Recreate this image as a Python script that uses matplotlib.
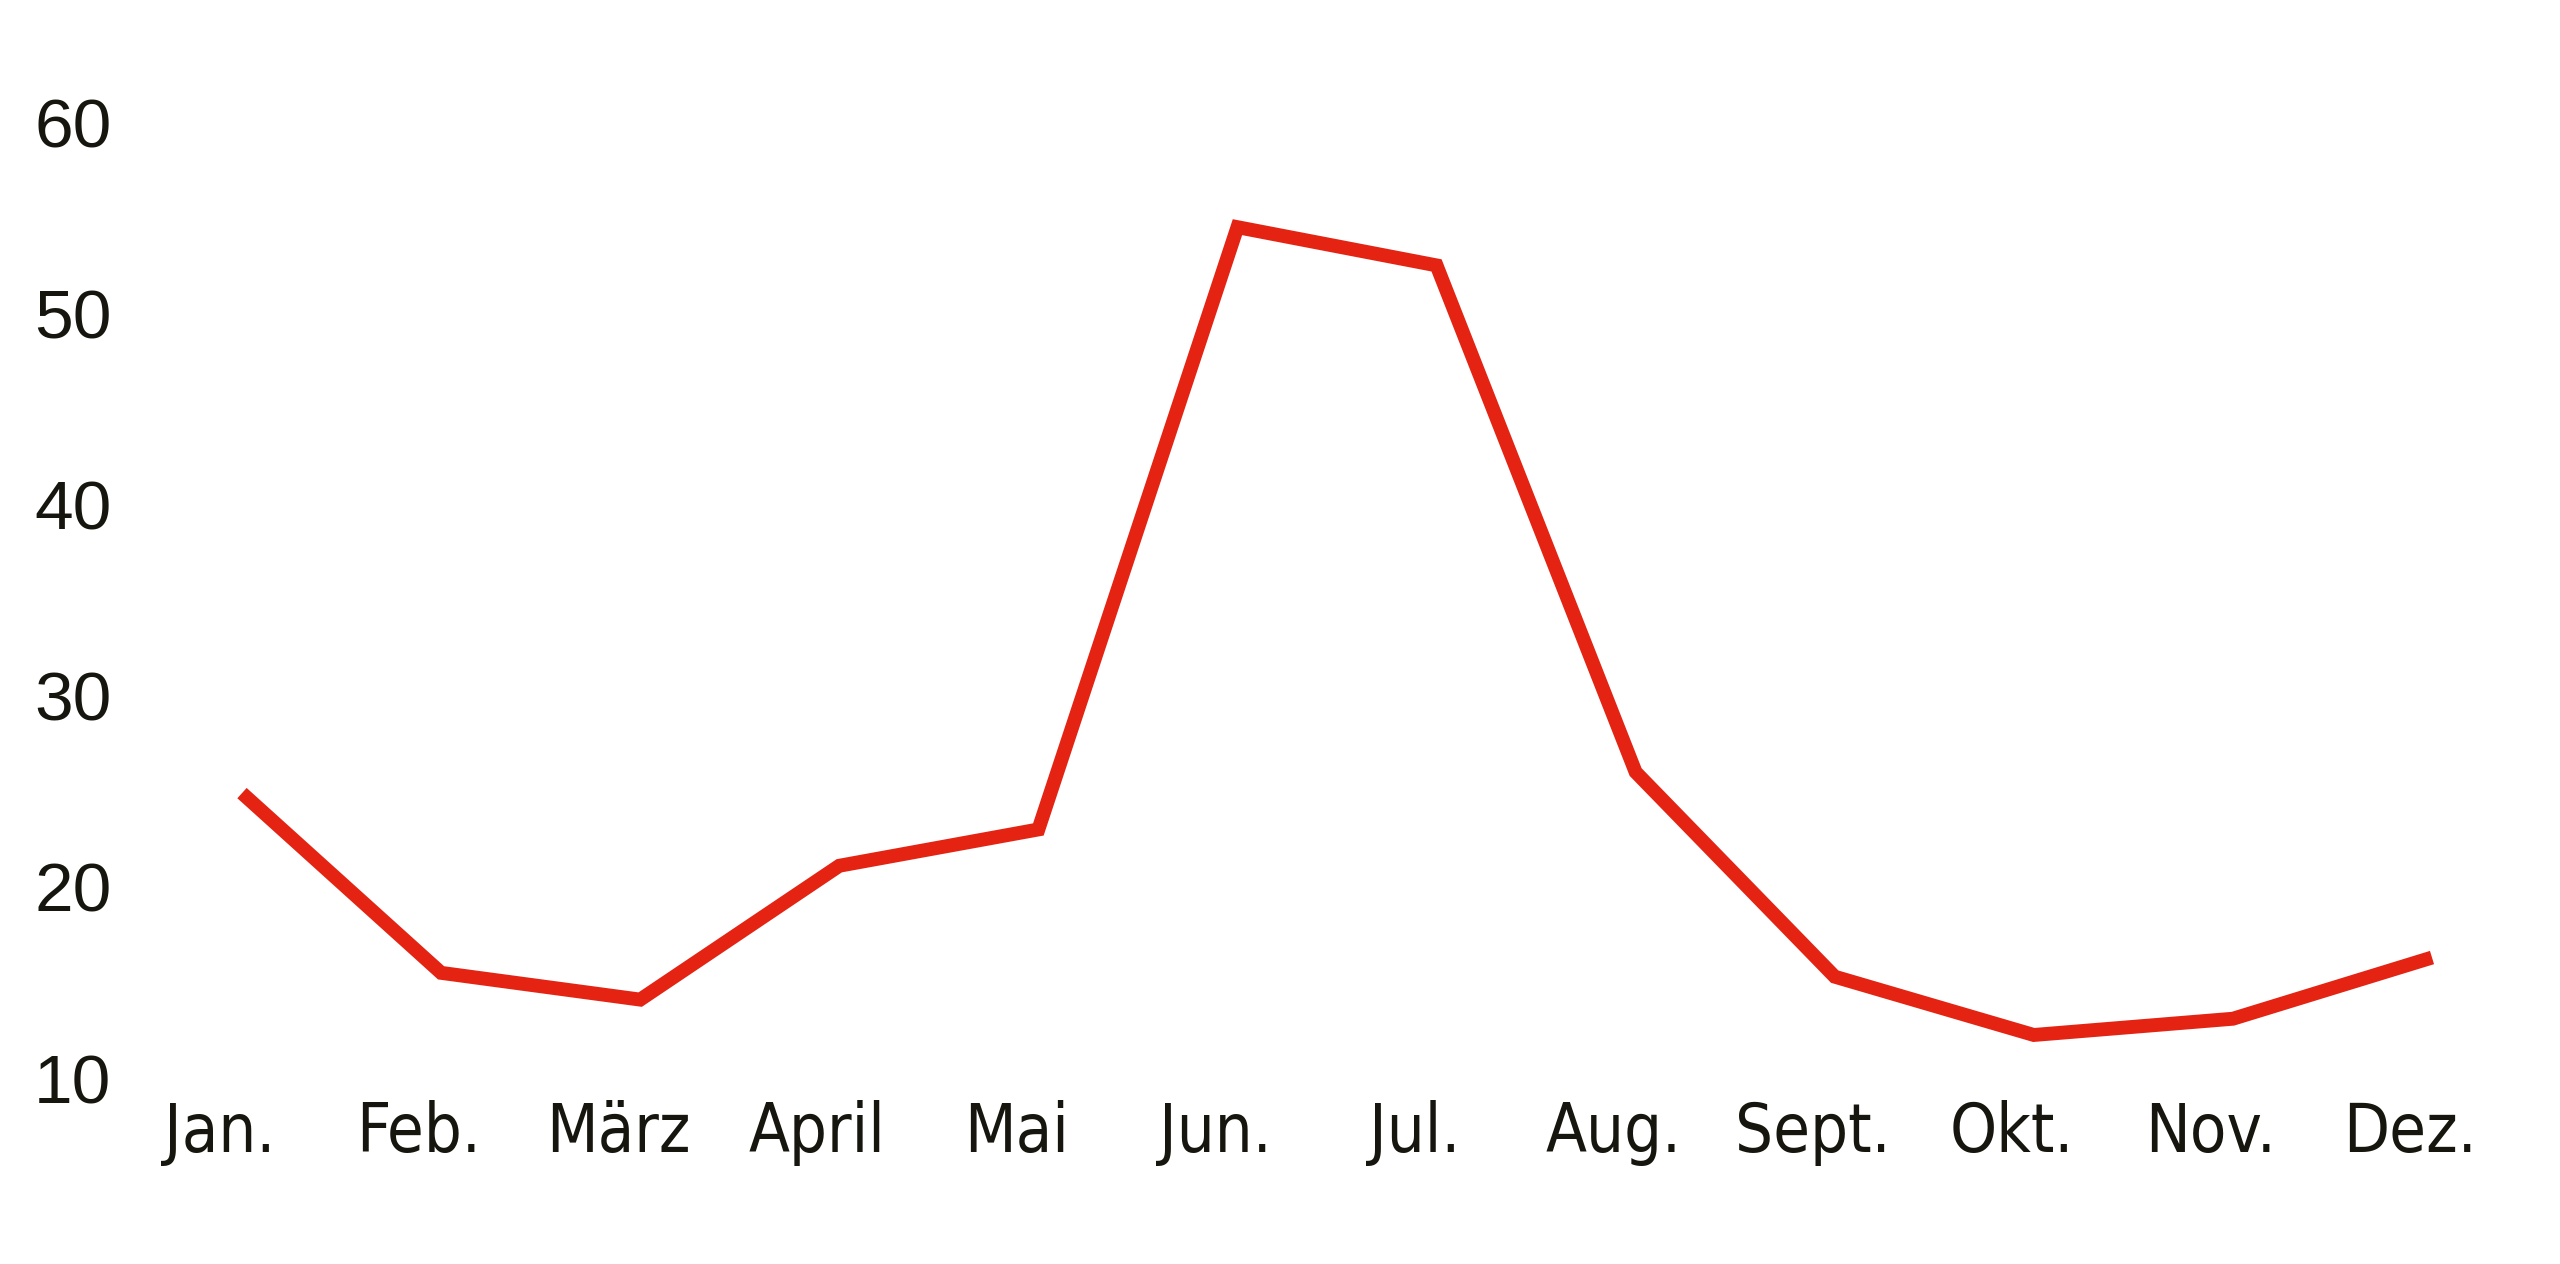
import matplotlib
matplotlib.use("Agg")
from matplotlib import pyplot as plt
from matplotlib.transforms import ScaledTranslation

months = ["Jan.", "Feb.", "März", "April", "Mai", "Jun.", "Jul.",
          "Aug.", "Sept.", "Okt.", "Nov.", "Dez."]
values = [24.9, 15.5, 14.1, 21.1, 23.0, 54.5, 52.5, 26.0, 15.3, 12.25, 13.1, 16.3]
y_ticks = [10, 20, 30, 40, 50, 60]

red = "#e42313"
ink = "#16160f"

fig = plt.figure(figsize=(12.8, 6.32), dpi=200)
ax = fig.add_axes([242 / 2560, 1 - 1078 / 1264, (2432 - 242) / 2560, (1078 - 122) / 1264])

xs = list(range(len(months)))
ax.plot(xs, values, color=red, linewidth=5.0, clip_on=False,
        solid_joinstyle="miter", solid_capstyle="butt")

ax.set_xlim(0, len(months) - 1)
ax.set_ylim(10, 60)

ax.set_yticks(y_ticks)
ax.set_yticklabels([str(t) for t in y_ticks], family=["Liberation Sans", "DejaVu Sans"],
                   fontsize=25, color=ink)
ax.set_xticks(xs)
ax.set_xticklabels(months, family=["DejaVu Sans"], fontstretch="condensed",
                   fontsize=24, color=ink)
ax.tick_params(axis="y", length=0, pad=47)
ax.tick_params(axis="x", length=0, pad=8)

# labels sit a little left of the points in the original
shift = ScaledTranslation(-8 / 72, 0, fig.dpi_scale_trans)
for lab in ax.get_xticklabels():
    lab.set_transform(lab.get_transform() + shift)

for s in ax.spines.values():
    s.set_visible(False)

fig.savefig("out.png", dpi=200, facecolor="white")
